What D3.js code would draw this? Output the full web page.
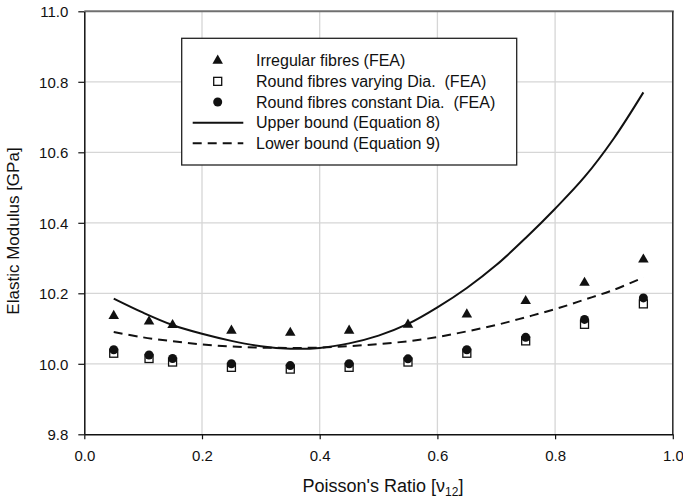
<!DOCTYPE html>
<html>
<head>
<meta charset="utf-8">
<script src="https://cdn.jsdelivr.net/npm/d3@7"></script>
<style>
  body { margin: 0; background: #fff; }
  svg { font-family: "Liberation Sans", Arial, sans-serif; }
  text { white-space: pre; }
</style>
</head>
<body>
<svg id="chart" width="683" height="501"></svg>
<script>
// FEA sample points
const fibreX = [0.05, 0.11, 0.15, 0.25, 0.35, 0.45, 0.55, 0.65, 0.75, 0.85, 0.95];
const irregular = [10.136, 10.12, 10.11, 10.094, 10.088, 10.094, 10.111, 10.14, 10.178, 10.23, 10.296];
const roundVarying = [10.03, 10.015, 10.005, 9.99, 9.985, 9.99, 10.005, 10.03, 10.065, 10.112, 10.17];
const roundConstant = [10.04, 10.025, 10.015, 10.0, 9.995, 10.0, 10.014, 10.04, 10.075, 10.126, 10.187];

// bound curves
const boundX = [0.05, 0.1, 0.15, 0.2, 0.25, 0.3, 0.35, 0.4, 0.45, 0.5, 0.55, 0.6, 0.65, 0.7, 0.75, 0.8, 0.85, 0.9, 0.95];
const upperBound = [10.185, 10.145, 10.11, 10.085, 10.065, 10.05, 10.043, 10.045, 10.058, 10.08, 10.113, 10.16, 10.215, 10.28, 10.357, 10.44, 10.53, 10.64, 10.77];
const lowerBound = [10.09, 10.075, 10.064, 10.055, 10.049, 10.046, 10.045, 10.046, 10.05, 10.056, 10.064, 10.076, 10.092, 10.11, 10.132, 10.155, 10.182, 10.21, 10.245];

const xTicks = [0.0, 0.2, 0.4, 0.6, 0.8, 1.0];
const yTicks = [9.8, 10.0, 10.2, 10.4, 10.6, 10.8, 11.0];

const legendItems = [
  { label: 'Irregular fibres (FEA)', type: 'triangle' },
  { label: 'Round fibres varying Dia.  (FEA)', type: 'square' },
  { label: 'Round fibres constant Dia.  (FEA)', type: 'circle' },
  { label: 'Upper bound (Equation 8)', type: 'solid' },
  { label: 'Lower bound (Equation 9)', type: 'dashed' },
];

const svg = d3.select('#chart');
const pL = 84.3, pR = 672.8, pT = 11.3, pB = 434.3;

const x = d3.scaleLinear().domain([0, 1]).range([pL, pR]);
const y = d3.scaleLinear().domain([9.8, 11.0]).range([pB, pT]);

// grid
svg.append('g')
  .selectAll('line')
  .data(xTicks.slice(1, -1))
  .enter()
  .append('line')
  .attr('x1', (d) => x(d)).attr('x2', (d) => x(d))
  .attr('y1', pT).attr('y2', pB)
  .attr('stroke', '#d6d6d6').attr('stroke-width', 1.3);

svg.append('g')
  .selectAll('line')
  .data(yTicks.slice(1, -1))
  .enter()
  .append('line')
  .attr('x1', pL).attr('x2', pR)
  .attr('y1', (d) => y(d)).attr('y2', (d) => y(d))
  .attr('stroke', '#d6d6d6').attr('stroke-width', 1.3);

// frame top / right
svg.append('line')
  .attr('x1', pL).attr('x2', pR + 1)
  .attr('y1', pT).attr('y2', pT)
  .attr('stroke', '#707070').attr('stroke-width', 2);
svg.append('line')
  .attr('x1', pR).attr('x2', pR)
  .attr('y1', pT).attr('y2', pB)
  .attr('stroke', '#333').attr('stroke-width', 1.6);

// axes
const xAxis = d3.axisBottom(x).tickValues(xTicks).tickFormat(d3.format('.1f')).tickSize(5).tickSizeOuter(0);
const yAxis = d3.axisLeft(y).tickValues(yTicks).tickFormat(d3.format('.1f')).tickSize(6).tickSizeOuter(0);

const gx = svg.append('g').attr('transform', `translate(0,${pB})`).call(xAxis);
const gy = svg.append('g').attr('transform', `translate(${pL},0)`).call(yAxis);

[gx, gy].forEach((g) => {
  g.select('.domain').attr('stroke', '#111').attr('stroke-width', 1.5);
  g.selectAll('.tick line').attr('stroke', '#111').attr('stroke-width', 1.2);
  g.selectAll('.tick text')
    .attr('fill', '#111')
    .style('font-size', '15px')
    .style('font-family', '"Liberation Sans", Arial, sans-serif');
});
gx.selectAll('.tick text').attr('dy', 0).attr('y', 27);
gy.selectAll('.tick text').attr('x', -16).attr('dy', '0.36em');

// axis titles
const xt = svg.append('text')
  .attr('x', 383)
  .attr('y', 492)
  .attr('text-anchor', 'middle')
  .style('font-size', '18px')
  .attr('fill', '#111');
xt.append('tspan').text("Poisson's Ratio [\u03bd");
xt.append('tspan').attr('dy', 4).style('font-size', '12px').text('12');
xt.append('tspan').attr('dy', -4).text(']');

svg.append('text')
  .attr('transform', `translate(19,231) rotate(-90)`)
  .attr('text-anchor', 'middle')
  .style('font-size', '17px')
  .attr('fill', '#111')
  .text('Elastic Modulus [GPa]');

// bound lines
const line = d3.line()
  .x((d) => x(d[0]))
  .y((d) => y(d[1]))
  .curve(d3.curveCatmullRom);

svg.append('path')
  .datum(d3.zip(boundX, upperBound))
  .attr('d', line)
  .attr('fill', 'none')
  .attr('stroke', '#111')
  .attr('stroke-width', 2);

svg.append('path')
  .datum(d3.zip(boundX, lowerBound))
  .attr('d', line)
  .attr('fill', 'none')
  .attr('stroke', '#111')
  .attr('stroke-width', 2)
  .attr('stroke-dasharray', '9,6');

// markers
const tri = d3.symbol().type(d3.symbolTriangle).size(48);

svg.append('g')
  .selectAll('rect')
  .data(d3.zip(fibreX, roundVarying))
  .enter()
  .append('rect')
  .attr('x', (d) => x(d[0]) - 4)
  .attr('y', (d) => y(d[1]) - 4)
  .attr('width', 8).attr('height', 8)
  .attr('fill', '#fff').attr('stroke', '#111').attr('stroke-width', 1.3);

svg.append('g')
  .selectAll('circle')
  .data(d3.zip(fibreX, roundConstant))
  .enter()
  .append('circle')
  .attr('cx', (d) => x(d[0]))
  .attr('cy', (d) => y(d[1]))
  .attr('r', 4.5)
  .attr('fill', '#111');

svg.append('g')
  .selectAll('path')
  .data(d3.zip(fibreX, irregular))
  .enter()
  .append('path')
  .attr('d', tri)
  .attr('transform', (d) => `translate(${x(d[0])},${y(d[1])})`)
  .attr('fill', '#111');

// legend
const lg = svg.append('g');
lg.append('rect')
  .attr('x', 181.7).attr('y', 38.3)
  .attr('width', 335).attr('height', 126.7)
  .attr('fill', '#fff').attr('stroke', '#222').attr('stroke-width', 1.3);

const rows = lg.selectAll('g.row')
  .data(legendItems)
  .enter()
  .append('g')
  .attr('transform', (d, i) => `translate(0,${60.7 + i * 20.65})`);

rows.append('text')
  .attr('x', 256)
  .attr('dy', '0.36em')
  .style('font-size', '16px')
  .attr('fill', '#111')
  .text((d) => d.label);

rows.filter((d) => d.type === 'triangle').append('path')
  .attr('d', tri).attr('transform', 'translate(217.7,0)').attr('fill', '#111');
rows.filter((d) => d.type === 'square').append('rect')
  .attr('x', 213.7).attr('y', -4).attr('width', 8).attr('height', 8)
  .attr('fill', '#fff').attr('stroke', '#111').attr('stroke-width', 1.3);
rows.filter((d) => d.type === 'circle').append('circle')
  .attr('cx', 217.7).attr('r', 4.5).attr('fill', '#111');
rows.filter((d) => d.type === 'solid' || d.type === 'dashed').append('line')
  .attr('x1', 192.7).attr('x2', 243.3)
  .attr('stroke', '#111').attr('stroke-width', 2)
  .attr('stroke-dasharray', (d) => (d.type === 'dashed' ? '9,6' : null));
</script>
</body>
</html>
